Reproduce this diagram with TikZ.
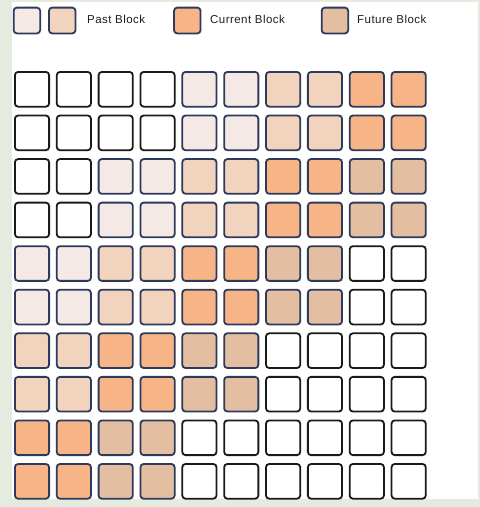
\documentclass[tikz,border=0pt]{standalone}
\usepackage{fontspec}
\setmainfont{Liberation Sans}[LetterSpace=4]
\definecolor{bgouter}{HTML}{E6EBE0}
\definecolor{fillW}{HTML}{FFFFFF}
\definecolor{fillL}{HTML}{F4E9E4}
\definecolor{fillP}{HTML}{F2D3BE}
\definecolor{fillC}{HTML}{F7B487}
\definecolor{fillF}{HTML}{E4BEA0}
\definecolor{lineW}{HTML}{1A1A1A}
\definecolor{lineL}{HTML}{2D3A5C}
\definecolor{lineP}{HTML}{2D3A5C}
\definecolor{lineC}{HTML}{2D3A5C}
\definecolor{lineF}{HTML}{2D3A5C}
\definecolor{txt}{HTML}{1E1E1E}
\tikzset{
  cellbox/.style={rectangle, rounded corners=3.2pt, line width=1.8pt,
    minimum width=34.2pt, minimum height=34.7pt, inner sep=0pt},
  legbox/.style={rectangle, rounded corners=3.2pt, line width=1.8pt,
    minimum width=26.5pt, minimum height=25.8pt, inner sep=0pt, draw=lineL},
  legtext/.style={anchor=base west, inner sep=0pt, text=txt,
    font=\fontsize{11.5}{13}\selectfont}
}
\begin{document}
\begin{tikzpicture}[x=1pt,y=-1pt]
\useasboundingbox (0,0) rectangle (480,507);
\fill[bgouter] (0,0) rectangle (480,507);
\fill[white] (12,2) rectangle (478,499);
% legend
\node[legbox, fill=fillL] (lg1) at (26.9,20.5) {};
\node[legbox, fill=fillP] (lg2) at (62.2,20.5) {};
\node[legtext] (lt1) at (87,23.3) {Past Block};
\node[legbox, fill=fillC] (lg3) at (187.3,20.5) {};
\node[legtext] (lt2) at (210,23.3) {Current Block};
\node[legbox, fill=fillF] (lg4) at (334.9,20.5) {};
\node[legtext] (lt3) at (357,23.3) {Future Block};
% grid
\foreach \r/\pat in {
  0/{W,W,W,W,L,L,P,P,C,C},
  1/{W,W,W,W,L,L,P,P,C,C},
  2/{W,W,L,L,P,P,C,C,F,F},
  3/{W,W,L,L,P,P,C,C,F,F},
  4/{L,L,P,P,C,C,F,F,W,W},
  5/{L,L,P,P,C,C,F,F,W,W},
  6/{P,P,C,C,F,F,W,W,W,W},
  7/{P,P,C,C,F,F,W,W,W,W},
  8/{C,C,F,F,W,W,W,W,W,W},
  9/{C,C,F,F,W,W,W,W,W,W}} {
  \foreach \t [count=\c from 0] in \pat {
    \node[cellbox, fill=fill\t, draw=line\t] (n-\r-\c) at ({32+41.85*\c},{89.3+43.56*\r}) {};
  }
}
\end{tikzpicture}
\end{document}
